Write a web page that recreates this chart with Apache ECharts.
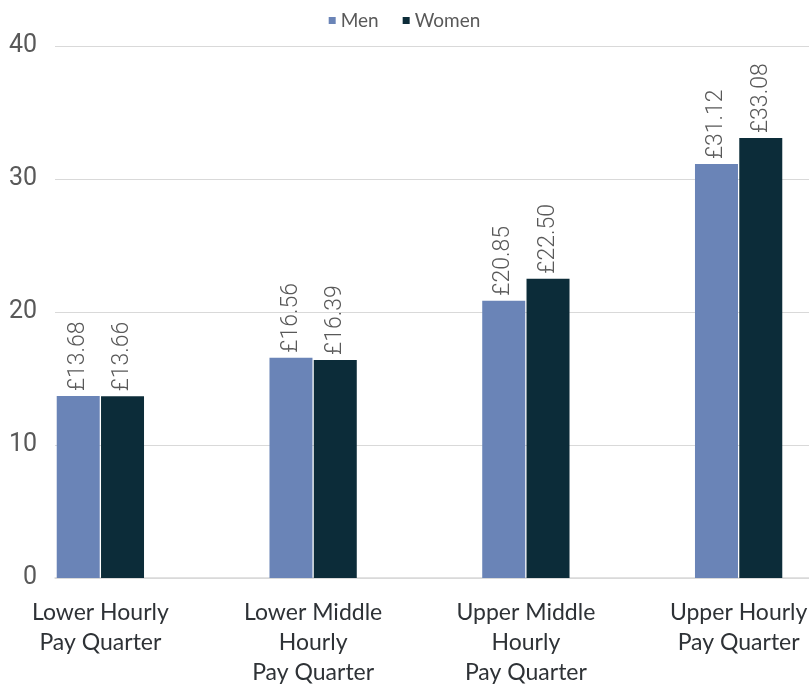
<!DOCTYPE html>
<html>
<head>
<meta charset="utf-8">
<script src="https://cdn.jsdelivr.net/npm/echarts@6/dist/echarts.min.js"></script>
<style>
  html, body { margin: 0; padding: 0; background: #ffffff; }
  #chart { width: 809px; height: 688px; }
</style>
</head>
<body>
<div id="chart"></div>
<script>
// Mean hourly pay by pay quarter
const categories = [
  'Lower Hourly\nPay Quarter',
  'Lower Middle\nHourly\nPay Quarter',
  'Upper Middle\nHourly\nPay Quarter',
  'Upper Hourly\nPay Quarter'
];
const menPay = [13.68, 16.56, 20.85, 31.12];
const womenPay = [13.66, 16.39, 22.50, 33.08];
const seriesNames = ['Men', 'Women'];
const yTicks = { min: 0, max: 40, interval: 10 };

const MEN_COLOR = '#6a84b7';
const WOMEN_COLOR = '#0c2c39';
const TEXT = '#595959';
const LINE = '#d9d9d9';

const chart = echarts.init(document.getElementById('chart'));

const valueLabel = {
  show: true,
  position: 'top',
  rotate: 90,
  align: 'left',
  verticalAlign: 'middle',
  distance: 5,
  color: TEXT,
  fontFamily: 'Roboto',
  fontWeight: 300,
  fontSize: 23,
  formatter: p => '£' + p.value.toFixed(2)
};

chart.setOption({
  animation: false,
  legend: {
    top: 6,
    left: 'center',
    itemWidth: 7,
    itemHeight: 7,
    itemGap: 24,
    icon: 'rect',
    textStyle: { color: TEXT, fontSize: 19, fontFamily: 'Lato' },
    data: seriesNames
  },
  grid: [
    // value scale, gridlines, baseline and tick labels
    { left: 55, right: 0, top: 46, bottom: 110, outerBoundsMode: 'none' },
    // bars and category labels: the plot runs a little past the right edge
    { left: -6, width: 851, top: 46, bottom: 110, outerBoundsMode: 'none' }
  ],
  xAxis: [
    {
      gridIndex: 0, type: 'category', data: categories,
      axisLine: { show: true, lineStyle: { color: LINE, width: 1.5 } },
      axisTick: { show: false }, axisLabel: { show: false }
    },
    {
      gridIndex: 1, type: 'category', data: categories,
      axisLine: { show: false },
      axisTick: { show: false },
      axisLabel: {
        color: '#2e3236', fontSize: 23, fontFamily: 'Lato',
        lineHeight: 30, margin: 20, interval: 0
      }
    }
  ],
  yAxis: [
    {
      gridIndex: 0, type: 'value', min: yTicks.min, max: yTicks.max, interval: yTicks.interval,
      axisLine: { show: false }, axisTick: { show: false },
      axisLabel: {
        color: TEXT, fontSize: 25, fontFamily: '"Liberation Sans Narrow", Roboto', margin: 18
      },
      splitLine: { lineStyle: { color: LINE, width: 1 } }
    },
    {
      gridIndex: 1, type: 'value', min: yTicks.min, max: yTicks.max, interval: yTicks.interval,
      show: false, splitLine: { show: false }
    }
  ],
  series: [
    {
      name: seriesNames[0], type: 'bar', xAxisIndex: 1, yAxisIndex: 1,
      data: menPay, barWidth: 43, barGap: '3%',
      itemStyle: { color: MEN_COLOR },
      label: valueLabel
    },
    {
      name: seriesNames[1], type: 'bar', xAxisIndex: 1, yAxisIndex: 1,
      data: womenPay, barWidth: 43, barGap: '3%',
      itemStyle: { color: WOMEN_COLOR },
      label: valueLabel
    }
  ]
});
</script>
</body>
</html>
